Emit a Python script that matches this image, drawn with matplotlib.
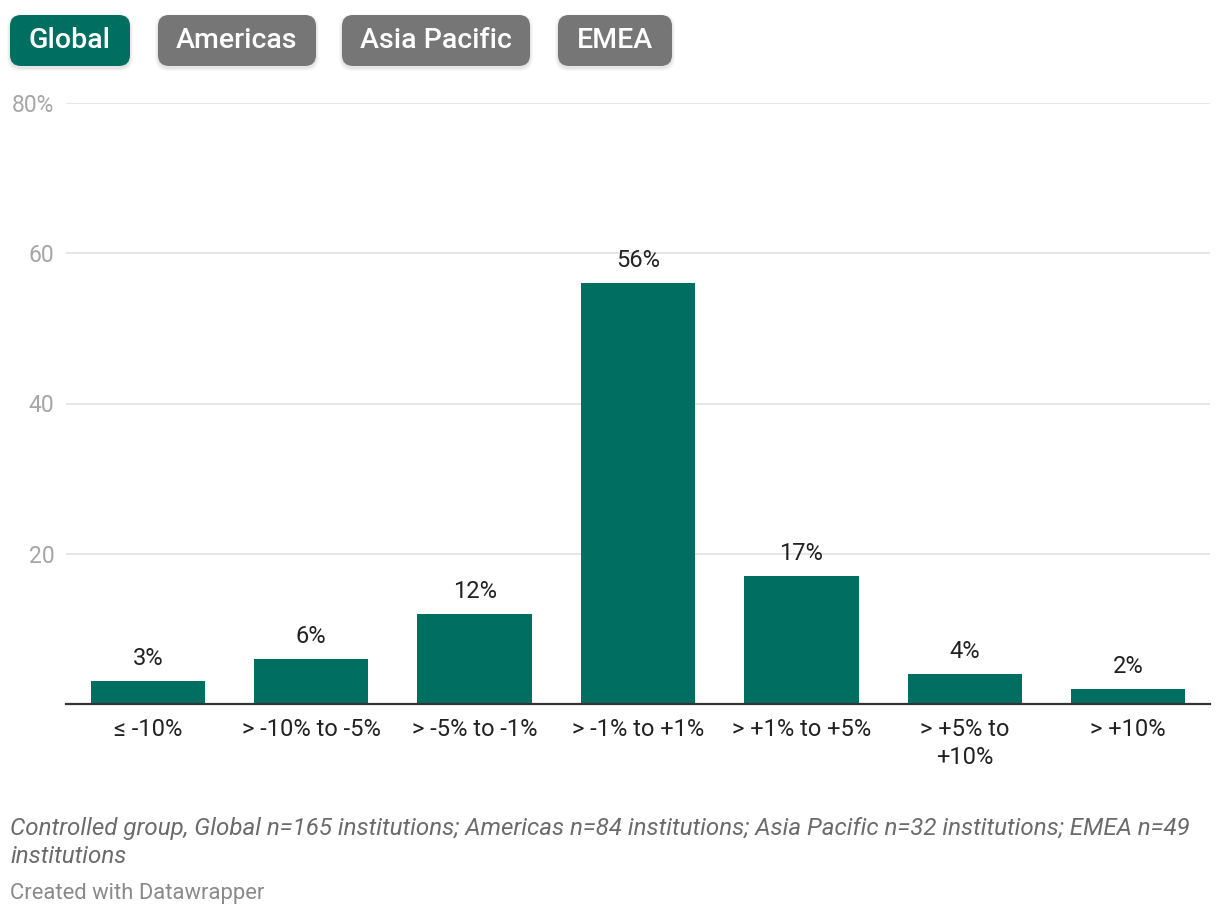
import matplotlib.pyplot as plt
from matplotlib.patches import FancyBboxPatch

plt.rcParams['font.family'] = ['Roboto', 'DejaVu Sans']

# data
categories = ["≤ -10%", "> -10% to -5%", "> -5% to -1%", "> -1% to +1%",
              "> +1% to +5%", "> +5% to\n+10%", "> +10%"]
values = [3, 6, 12, 56, 17, 4, 2]
value_labels = [f"{v}%" for v in values]
y_ticks = [20, 40, 60, 80]
y_tick_labels = ["20", "40", "60", "80%"]

buttons = ["Global", "Americas", "Asia Pacific", "EMEA"]
button_x = [10, 158, 342, 558]
button_w = [120, 158, 188, 114]

note = ("Controlled group, Global n=165 institutions; Americas n=84 institutions; "
        "Asia Pacific n=32 institutions; EMEA n=49\ninstitutions")
credit = "Created with Datawrapper"

teal = "#006f62"
grey_btn = "#767676"

fig = plt.figure(figsize=(12.2, 9.18), dpi=100)
ax = fig.add_axes([66 / 1220, 1 - 704 / 918, (1210 - 66) / 1220, (704 - 103) / 918])

x = range(len(categories))
ax.bar(x, values, width=0.7, color=teal, zorder=3)
for xi, v, lab in zip(x, values, value_labels):
    ax.annotate(lab, (xi, v), xytext=(0, 8), textcoords="offset points",
                ha="center", va="bottom", fontsize=17, color="#222222")

ax.set_xlim(-0.5, len(categories) - 0.5)
ax.set_ylim(0, 80)
ax.set_yticks(y_ticks)
ax.set_yticklabels(y_tick_labels)
ax.set_xticks(list(x))
ax.set_xticklabels(categories, fontsize=17, color="#222222", linespacing=1.28)
ax.tick_params(axis="x", length=0, pad=10)
ax.tick_params(axis="y", length=0, pad=8.5, labelsize=16.5, labelcolor="#a6a6a6")
ax.grid(axis="y", color="#e2e2e2", linewidth=1.2, zorder=0)
for s in ["top", "right", "left"]:
    ax.spines[s].set_visible(False)
ax.spines["bottom"].set_color("#333333")
ax.spines["bottom"].set_linewidth(1.6)
ax.spines["bottom"].set_zorder(4)

# overlay in pixel coordinates for buttons and footer
ov = fig.add_axes([0, 0, 1, 1], zorder=9)
ov.set_xlim(0, 1220)
ov.set_ylim(918, 0)
ov.axis("off")
ov.patch.set_alpha(0)

for i, (name, bx, bw) in enumerate(zip(buttons, button_x, button_w)):
    col = teal if i == 0 else grey_btn
    for k, a in [(6, 0.025), (4, 0.035), (2, 0.045)]:
        ov.add_patch(FancyBboxPatch((bx - k * 0.5, 15 - k * 0.5 + 2), bw + k, 51 + k,
                                    boxstyle="round,pad=0,rounding_size=13",
                                    facecolor="black", edgecolor="none", alpha=a))
    ov.add_patch(FancyBboxPatch((bx, 15), bw, 51,
                                boxstyle="round,pad=0,rounding_size=11",
                                facecolor=col, edgecolor="none"))
    ov.text(bx + bw / 2, 41, name, ha="center", va="center", fontsize=20.5,
            fontweight="medium", color="white")

ov.text(10, 817, note, ha="left", va="top", fontsize=17.4, style="italic",
        color="#6b6b6b", linespacing=1.3)
ov.text(10, 894, credit, ha="left", va="center", fontsize=15.8, color="#8a8a8a")

fig.savefig("out.png", dpi=100)
